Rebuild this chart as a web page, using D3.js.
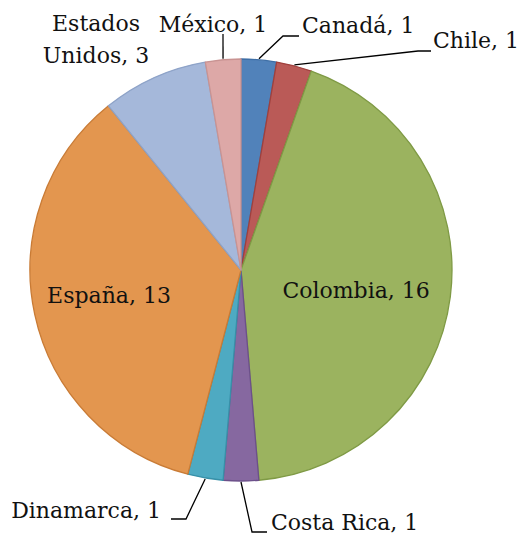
<!DOCTYPE html>
<html><head><meta charset="utf-8">
<script src="https://cdn.jsdelivr.net/npm/d3@7"></script>
<style>body{margin:0;background:#fff}text{font-family:"DejaVu Serif",serif;font-size:22px;fill:#111}</style>
</head><body><svg id="c" width="519" height="538"></svg>
<script>
const categories = ["Canadá","Chile","Colombia","Costa Rica","Dinamarca","España","Estados Unidos","México"];
const values = [1,1,16,1,1,13,3,1];
const colors = ["#5182BA","#BA5A57","#9BB35F","#8668A0","#4EAAC2","#E3964F","#A5B8DA","#DDA8A7"];
const strokes = ["#3F6FA6","#A0403D","#7F9A45","#6C508A","#3790A8","#C97B35","#8EA3C8","#C99392"];

const layout = {
  "Canadá": {elbow:[283,36], end:[299,36], text:[302,27], anchor:"start"},
  "Chile": {elbow:[418,51], end:[431,51], text:[433,42], anchor:"start"},
  "México": {elbow:[223,34], end:null, text:[213,26], anchor:"middle"},
  "Estados Unidos": {elbow:null, end:null, text:[96,25], anchor:"middle", two:true},
  "Dinamarca": {elbow:[186,519], end:[171,519], text:[161,512], anchor:"end"},
  "Costa Rica": {elbow:[252,532], end:[267,532], text:[271,524], anchor:"start"}
};

const cx = 241, cy = 270, R = 211;
const svg = d3.select("#c");
const g = svg.append("g").attr("transform",`translate(${cx},${cy})`);
const pie = d3.pie().sort(null).value(d=>d.v);
const data = pie(categories.map((c,i)=>({c,v:values[i],i})));
const arc = d3.arc().innerRadius(0).outerRadius(R);
g.selectAll("path").data(data).join("path")
  .attr("d",arc)
  .attr("fill",d=>colors[d.data.i])
  .attr("stroke",d=>strokes[d.data.i])
  .attr("stroke-width",1.3)
  .attr("stroke-linejoin","round");

const inside = {"Colombia":[0.55,7],"España":[0.64,-1]};
data.forEach(d=>{
  const name = d.data.c;
  const mid = (d.startAngle+d.endAngle)/2;
  if (inside[name]) {
    const rr = R*inside[name][0];
    g.append("text").attr("x",Math.sin(mid)*rr).attr("y",-Math.cos(mid)*rr+inside[name][1])
      .attr("text-anchor","middle").attr("dominant-baseline","middle")
      .text(`${name}, ${d.data.v}`);
    return;
  }
  const L = layout[name];
  const px = cx+Math.sin(mid)*(R+1), py = cy-Math.cos(mid)*(R+1);
  if (L.elbow) {
    const pts = [[px,py],L.elbow];
    if (L.end) pts.push(L.end);
    svg.append("path").attr("d",d3.line()(pts)).attr("fill","none").attr("stroke","#000").attr("stroke-width",1.3);
  }
  if (L.two) {
    const t = svg.append("text").attr("x",L.text[0]).attr("y",L.text[1]).attr("text-anchor","middle").attr("dominant-baseline","middle");
    t.append("tspan").attr("x",L.text[0]).attr("dy",0).text("Estados");
    t.append("tspan").attr("x",L.text[0]).attr("dy",32).text(`Unidos, ${d.data.v}`);
  } else {
    svg.append("text").attr("x",L.text[0]).attr("y",L.text[1]).attr("text-anchor",L.anchor)
      .attr("dominant-baseline","middle").text(`${name}, ${d.data.v}`);
  }
});
</script></body></html>
